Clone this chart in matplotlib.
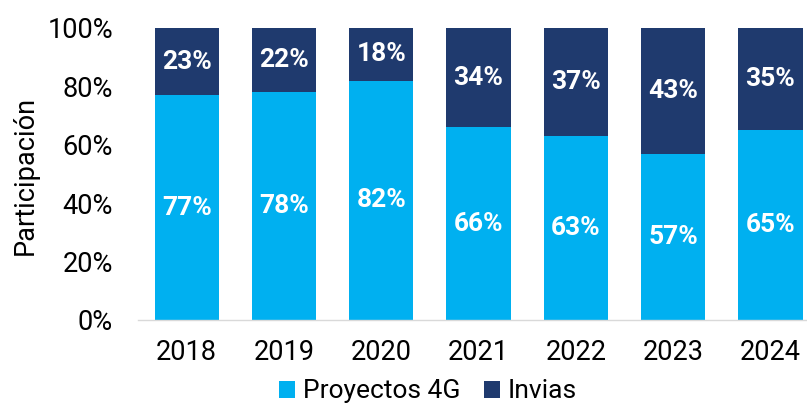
import numpy as np
import matplotlib
matplotlib.use('Agg')
import matplotlib.pyplot as plt
from matplotlib.ticker import PercentFormatter

plt.rcParams['font.family'] = ['Roboto', 'DejaVu Sans']

years = ['2018', '2019', '2020', '2021', '2022', '2023', '2024']
proyectos_4g = [77, 78, 82, 66, 63, 57, 65]
invias = [23, 22, 18, 34, 37, 43, 35]

light = '#00B0F0'
dark = '#1F3A6E'

fig = plt.figure(figsize=(8.07, 4.03), dpi=100)
ax = fig.add_axes([138 / 807, (403 - 320) / 403, (807 - 138) / 807, 292 / 403])

x = np.arange(len(years))
width = 0.66
b1 = ax.bar(x, proyectos_4g, width, color=light, label='Proyectos 4G')
b2 = ax.bar(x, invias, width, bottom=proyectos_4g, color=dark, label='Invias')

for bars, vals, bottoms in ((b1, proyectos_4g, [0] * len(x)), (b2, invias, proyectos_4g)):
    for rect, v, b in zip(bars, vals, bottoms):
        ax.text(rect.get_x() + rect.get_width() / 2, b + v / 2, f'{v}%',
                ha='center', va='center', color='white', fontsize=19, fontweight='bold')

ax.set_xlim(-0.5, -0.5 + 669 / 97.3)
ax.set_ylim(0, 100)
ax.set_yticks(range(0, 101, 20))
ax.yaxis.set_major_formatter(PercentFormatter(decimals=0))
ax.set_xticks(x)
ax.set_xticklabels(years)
ax.tick_params(axis='both', length=0, labelsize=19.5, colors='black')
ax.tick_params(axis='x', pad=14)
ax.tick_params(axis='y', pad=18)
fig.text(25 / 807, 1 - 175 / 403, 'Participación', rotation=90, fontsize=19.5,
         ha='center', va='center')

for s in ('top', 'right', 'left'):
    ax.spines[s].set_visible(False)
ax.spines['bottom'].set_color('#D9D9D9')
ax.spines['bottom'].set_linewidth(1)

fig.legend(handles=[b1, b2], loc='lower center', bbox_to_anchor=(0.53, -0.06), ncol=2,
           frameon=False, fontsize=19, handlelength=0.6, handleheight=0.6,
           handletextpad=0.3, columnspacing=0.9)

fig.savefig('out.png', dpi=100)
